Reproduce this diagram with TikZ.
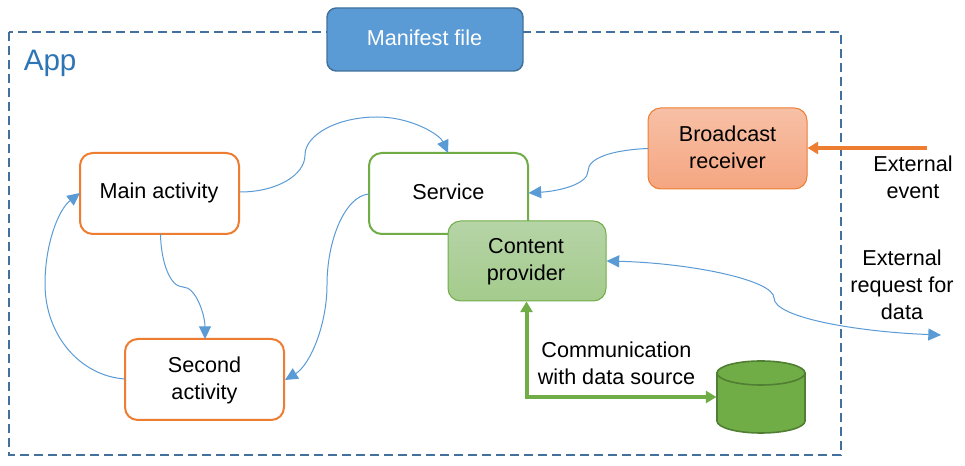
\documentclass[tikz,border=0pt]{standalone}
\usepackage{fontspec}
\setmainfont{Liberation Sans}
\usetikzlibrary{arrows.meta}
\definecolor{dashblue}{HTML}{41719C}
\definecolor{appblue}{HTML}{2E75B6}
\definecolor{linkblue}{HTML}{5B9BD5}
\definecolor{orng}{HTML}{ED7D31}
\definecolor{grn}{HTML}{70AD47}
\definecolor{dkgrn}{HTML}{507E32}
\definecolor{orngtop}{HTML}{F7C0A6}
\definecolor{orngbot}{HTML}{F5A681}
\definecolor{grntop}{HTML}{B6D4A7}
\definecolor{grnbot}{HTML}{A4CB8C}
\tikzset{
  x=0.75pt,y=-0.75pt,
  lbl/.style={font=\fontsize{16.2}{20.3}\selectfont,align=center,text=black,inner sep=0pt},
  box/.style={rounded corners=9.5pt,line width=1.5pt,fill=white},
  gbox/.style={rounded corners=9.5pt,line width=0.75pt},
  link/.style={draw=linkblue,line width=0.75pt,-{Triangle[length=9.5pt,width=9pt,fill=linkblue]}},
  linkboth/.style={draw=linkblue,line width=0.75pt,{Triangle[length=9.5pt,width=9pt,fill=linkblue]}-{Triangle[length=9.5pt,width=9pt,fill=linkblue]}},
}
\begin{document}
\begin{tikzpicture}
\useasboundingbox (0,0) rectangle (965,466);
\fill[white] (0,0) rectangle (965,466);
% App frame
\draw[dashblue,line width=1.5pt,dash pattern=on 6.75pt off 3.75pt] (9,32) rectangle (841,455);
\node[anchor=west,inner sep=0pt,text=appblue,font=\fontsize{22.2}{26}\selectfont] (app) at (23.5,63) {App};
% Manifest
\draw[dashblue,line width=1.1pt,fill=linkblue,rounded corners=7pt] (327,8) rectangle (523,71);
\coordinate (mfc) at (424.5,38);
\node[lbl,text=white] (mf) at (mfc) {Manifest file};
% Boxes
\draw[box,draw=orng] (80,153) rectangle (239,234);
\node[lbl] (main) at (159,193) {Main activity};
\draw[box,draw=grn] (369,153) rectangle (528,234);
\node[lbl] (svc) at (448.5,191.5) {Service};
\draw[box,draw=orng] (125,339) rectangle (284,420);
\node[lbl] (sec) at (204.5,380) {Second\\activity};
\draw[gbox,draw=orng,top color=orngtop,bottom color=orngbot] (648,108) rectangle (807,189);
\node[lbl] (br) at (727.5,147) {Broadcast\\receiver};
\draw[gbox,draw=grn,top color=grntop,bottom color=grnbot] (448,221) rectangle (606,301);
\node[lbl] (cp) at (526,262) {Content\\provider};
% Cylinder
\draw[dkgrn,line width=1.2pt,fill=grn] (717,373) -- (717,421) .. controls (717,427.6) and (736.7,433) .. (761,433) .. controls (785.3,433) and (805,427.6) .. (805,421) -- (805,373) -- cycle;
\draw[dkgrn,line width=1.2pt,fill=grn] (761,373) ellipse[x radius=44,y radius=12];
\coordinate (db) at (716.5,397);
% Connectors (curves)
\coordinate (a1) at (240,192);
\coordinate (a2) at (305,155);
\coordinate (a3) at (377,117);
\coordinate (a4) at (448,153);
\draw[link] (a1) .. controls (277,192) and (305,175) .. (a2) .. controls (305,135) and (337,117) .. (a3) .. controls (412,117) and (440,135) .. (a4);
\coordinate (b1) at (648,148.5);
\coordinate (b2) at (588,171);
\coordinate (b3) at (528.5,193);
\draw[link] (b1) .. controls (612,150) and (588,158) .. (b2) .. controls (588,184) and (560,191) .. (b3);
\coordinate (c1) at (160.5,234);
\coordinate (c2) at (183,287);
\coordinate (c3) at (205,339);
\draw[link] (c1) .. controls (161,262) and (170,287) .. (c2) .. controls (196,287) and (205,315) .. (c3);
\coordinate (d1) at (125,379);
\coordinate (d2) at (45,284);
\coordinate (d3) at (80,193);
\draw[link] (d1) .. controls (80,376) and (45,335) .. (d2) .. controls (45,245) and (58,210) .. (d3);
\coordinate (e1) at (369,194);
\coordinate (e2) at (327,285);
\coordinate (e3) at (285,380);
\draw[link] (e1) .. controls (345,196) and (327,240) .. (e2) .. controls (327,325) and (310,365) .. (e3);
\coordinate (f1) at (606.5,261);
\coordinate (f2) at (774,298);
\coordinate (f3) at (941,335);
\draw[linkboth] (f1) .. controls (690,263) and (774,280) .. (f2) .. controls (774,318) and (860,332) .. (f3);
% Heavy arrows
\coordinate (g1) at (927,148);
\coordinate (g2) at (807.5,148);
\draw[orng,line width=3pt,-{Triangle[length=8pt,width=9pt]}] (g1) -- (g2);
\coordinate (h1) at (526.5,301.5);
\draw[grn,line width=3pt,{Triangle[length=8pt,width=9pt]}-{Triangle[length=8pt,width=9pt]}] (h1) |- (db);
% Outside labels
\node[lbl] (ev) at (913,177) {External\\event};
\node[lbl] (rq) at (902,284.5) {External\\request for\\data};
\node[lbl] (cm) at (616.5,363.5) {Communication\\with data source};
\end{tikzpicture}
\end{document}
